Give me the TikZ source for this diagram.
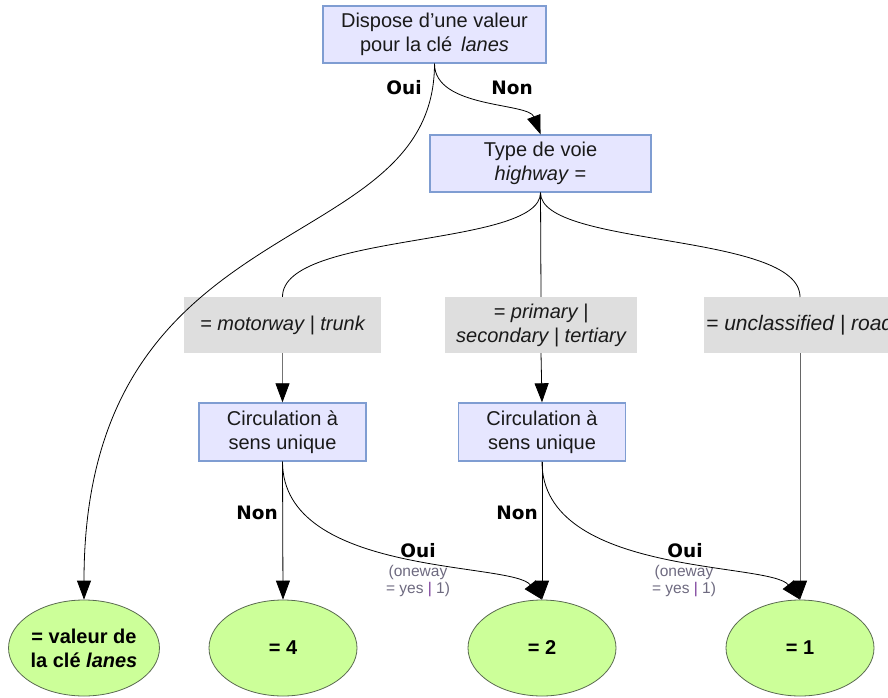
\documentclass[tikz,border=0pt]{standalone}
\usepackage{fontspec}
\setmainfont{Liberation Sans}
\newfontfamily\lblfont{DejaVu Sans}
\usetikzlibrary{arrows.meta,shapes.geometric}
\definecolor{boxfill}{HTML}{E6E6FF}
\definecolor{boxline}{HTML}{7F9DD2}
\definecolor{grayfill}{HTML}{DEDEDE}
\definecolor{ellfill}{HTML}{CCFF99}
\definecolor{ellline}{HTML}{5A6A50}
\definecolor{notegray}{HTML}{6E6A80}
\definecolor{notepipe}{HTML}{7A3D9A}
\definecolor{txt}{HTML}{1A1A1A}
\tikzset{
  qbox/.style={draw=boxline, line width=1.4pt, fill=boxfill, text=txt, align=center,
    inner sep=0pt, font=\fontsize{20}{24}\selectfont},
  gbox/.style={fill=grayfill, inner sep=0pt, text=txt, align=center,
    font=\fontsize{20}{24}\selectfont\itshape},
  res/.style={ellipse, draw=ellline, line width=0.8pt, fill=ellfill, inner sep=0pt,
    minimum width=148pt, minimum height=96pt, align=center,
    font=\fontsize{20}{24}\selectfont\bfseries},
  lbl/.style={font=\lblfont\fontsize{18.5}{20}\selectfont\bfseries, inner sep=0pt},
  note/.style={font=\fontsize{15.5}{17}\selectfont, text=notegray, align=center, inner sep=0pt},
  conn/.style={line width=0.8pt, draw=black},
  arr/.style={conn, -{Triangle[length=19pt,width=14pt,color=black]}},
}
\begin{document}
\begin{tikzpicture}[x=1pt,y=-1pt]
\useasboundingbox (0,0) rectangle (888,698);
\fill[white] (0,0) rectangle (888,698);
% nodes
\node[qbox, minimum width=223pt, minimum height=57pt] (top) at (434.5,34.5)
  {Dispose d'une valeur\\pour la clé\, \textit{lanes}};
\node[qbox, minimum width=221pt, minimum height=57pt] (type) at (540.5,163.5)
  {Type de voie\\\textit{highway} =};
\node[gbox, minimum width=197pt, minimum height=56pt] (g1) at (282.5,325)
  {= \textit{motorway} | \textit{trunk}};
\node[gbox, minimum width=192pt, minimum height=56pt] (g2) at (541,325)
  {= \textit{primary} |\\\textit{secondary} | \textit{tertiary}};
\node[fill=grayfill, inner sep=0pt, minimum width=220pt, minimum height=56pt] (g3) at (814,325) {};
\node[anchor=west, inner sep=0pt, text=txt, font=\fontsize{21}{24}\selectfont\itshape] (g3t) at (706,325)
  {= \textit{unclassified} | \textit{road}};
\coordinate (g3n) at (800,297);
\coordinate (g3s) at (800,353);
\node[qbox, minimum width=167pt, minimum height=58pt] (c1) at (282.5,432)
  {Circulation à\\sens unique};
\node[qbox, minimum width=167pt, minimum height=58pt] (c2) at (542,432)
  {Circulation à\\sens unique};
\node[res] (e1) at (84,648) {= valeur de\\la clé \textit{lanes}};
\node[res] (e2) at (283,648) {= 4};
\node[res] (e3) at (542,648) {= 2};
\node[res] (e4) at (800,648) {= 1};
% connectors
\draw[arr] (top.south) .. controls +(0,200) and +(0,-400) .. (e1.north);
\draw[arr] (top.south) .. controls +(0,45) and +(-12,-32) .. (type.north);
\draw[conn] (type.south) .. controls +(0,55) and +(0,-65) .. (g1.north);
\draw[conn] (type.south) -- (g2.north);
\draw[conn] (type.south) .. controls +(0,55) and +(0,-65) .. (g3n);
\draw[arr, draw=black!55] (g1.south) -- (c1.north);
\draw[arr] (g2.south) -- (c2.north);
\draw[arr, draw=black!60] (g3s) -- (e4.north);
\draw[arr] (c1.south) -- (e2.north);
\draw[arr] (c1.south) .. controls +(0,115) and +(-30,-38) .. (e3.north);
\draw[arr] (c2.south) -- (e3.north);
\draw[arr] (c2.south) .. controls +(0,115) and +(-30,-38) .. (e4.north);
% labels
\node[lbl] (l1) at (404,88) {Oui};
\node[lbl] (l2) at (512,88) {Non};
\node[lbl] (l3) at (257,513) {Non};
\node[lbl] (l4) at (517,513) {Non};
\node[lbl] (l5) at (418,551) {Oui};
\node[lbl] (l6) at (685,551) {Oui};
\node[note] (n1) at (418,581) {(oneway\\= yes {\color{notepipe}|} 1)};
\node[note] (n2) at (684,581) {(oneway\\= yes {\color{notepipe}|} 1)};
\end{tikzpicture}
\end{document}
